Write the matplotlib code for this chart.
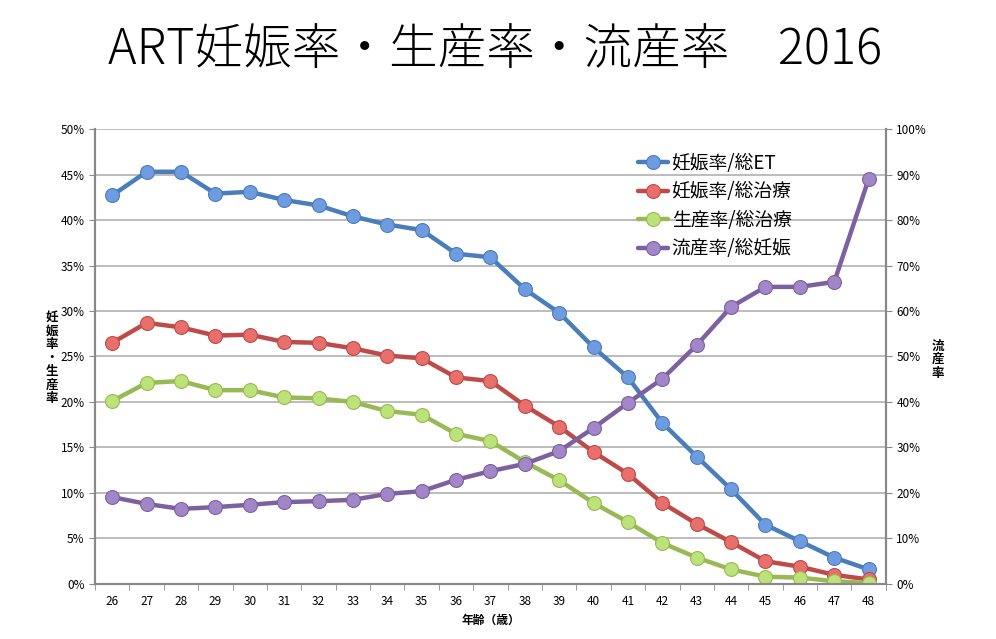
import numpy as np
import matplotlib
matplotlib.use('Agg')
import matplotlib.pyplot as plt
import matplotlib.ticker as ticker

plt.rcParams['font.family'] = ['Noto Sans CJK JP', 'DejaVu Sans']

# ---------------------------------------------------------------------------
# Data
# ---------------------------------------------------------------------------

ages = [26, 27, 28, 29, 30, 31, 32, 33, 34, 35, 36, 37,
        38, 39, 40, 41, 42, 43, 44, 45, 46, 47, 48]

preg_per_et = [42.7, 45.3, 45.3, 42.9, 43.1, 42.2, 41.6, 40.4, 39.5, 38.9, 36.3, 35.9,
               32.4, 29.8, 26.0, 22.7, 17.7, 14.0, 10.4, 6.5, 4.7, 2.9, 1.6]
preg_per_tx = [26.5, 28.7, 28.2, 27.3, 27.4, 26.6, 26.5, 25.9, 25.1, 24.8, 22.7, 22.3,
               19.6, 17.3, 14.5, 12.1, 8.9, 6.6, 4.6, 2.5, 1.9, 1.0, 0.5]
birth_per_tx = [20.1, 22.1, 22.3, 21.3, 21.3, 20.5, 20.4, 20.0, 19.0, 18.6, 16.5, 15.7,
                13.4, 11.4, 8.9, 6.8, 4.5, 2.9, 1.6, 0.8, 0.7, 0.3, 0.1]
miscarriage = [19.1, 17.6, 16.5, 16.9, 17.4, 18.0, 18.2, 18.5, 19.8, 20.4, 22.9, 24.8,
               26.4, 29.2, 34.3, 39.8, 45.1, 52.5, 60.9, 65.3, 65.3, 66.4, 89.0]

labels = ['妊娠率/総ET', '妊娠率/総治療', '生産率/総治療', '流産率/総妊娠']

COLORS = {
    'blue':   ('#4a7ebb', '#6f9be0'),
    'red':    ('#be4b48', '#e86f6c'),
    'green':  ('#98b954', '#bde27a'),
    'purple': ('#7d60a0', '#a287c8'),
}
GRID = '#b0b0b0'

# ---------------------------------------------------------------------------
# Figure
# ---------------------------------------------------------------------------

fig = plt.figure(figsize=(9.96, 6.39), dpi=100)
ax = fig.add_axes([0.0954, 0.0861, 0.794, 0.712])
ax2 = ax.twinx()

x = np.arange(len(ages))


def draw(axis, y, key, label):
    line_c, face_c = COLORS[key]
    return axis.plot(x, y, color=line_c, lw=3.2, marker='o', ms=10,
                     mfc=face_c, mec=line_c, mew=0.8, label=label,
                     solid_capstyle='round', zorder=3)[0]


h1 = draw(ax, preg_per_et, 'blue', labels[0])
h2 = draw(ax, preg_per_tx, 'red', labels[1])
h3 = draw(ax, birth_per_tx, 'green', labels[2])
h4 = draw(ax2, miscarriage, 'purple', labels[3])

ax.set_xlim(-0.5, len(ages) - 0.5)
ax.set_ylim(0, 50)
ax2.set_ylim(0, 100)

ax.yaxis.set_major_locator(ticker.MultipleLocator(5))
ax2.yaxis.set_major_locator(ticker.MultipleLocator(10))
ax.yaxis.set_major_formatter(ticker.FuncFormatter(lambda v, p: f'{v:.0f}%'))
ax2.yaxis.set_major_formatter(ticker.FuncFormatter(lambda v, p: f'{v:.0f}%'))

ax.set_xticks(x)
ax.set_xticklabels([str(a) for a in ages])
ax.set_xticks(np.arange(-0.5, len(ages), 1.0), minor=True)
ax.tick_params(axis='x', which='major', length=0, pad=8, labelsize=8.5)
ax.tick_params(axis='x', which='minor', length=4, color='#888888')
ax.tick_params(axis='y', length=4, color='#888888', labelsize=8.5)
ax2.tick_params(axis='y', length=4, color='#888888', labelsize=8.5)

ax.grid(True, axis='y', color=GRID, lw=1.2)
ax.set_axisbelow(True)

for a in (ax, ax2):
    a.spines['top'].set_visible(False)
    for side in ('left', 'right', 'bottom'):
        a.spines[side].set_color('#888888')
        a.spines[side].set_linewidth(1.5)

ax.set_xlabel('年齢（歳）', fontsize=8.5, fontweight='bold', labelpad=4)

fig.text(0.052, 0.44, '妊\n娠\n率\n・\n生\n産\n率', ha='center', va='center',
         fontsize=9, fontweight='bold', linespacing=1.05)
fig.text(0.942, 0.437, '流\n産\n率', ha='center', va='center',
         fontsize=9, fontweight='bold', linespacing=1.05)

ax.legend(handles=[h1, h2, h3, h4], loc='upper left',
          bbox_to_anchor=(0.665, 0.985), frameon=False, fontsize=13.5,
          handlelength=1.6, labelspacing=0.4, handletextpad=0.2)

fig.text(0.497, 0.921, 'ART妊娠率・生産率・流産率　2016', ha='center', va='center',
         fontsize=35, fontweight='light')

fig.savefig('out.png', dpi=100)
